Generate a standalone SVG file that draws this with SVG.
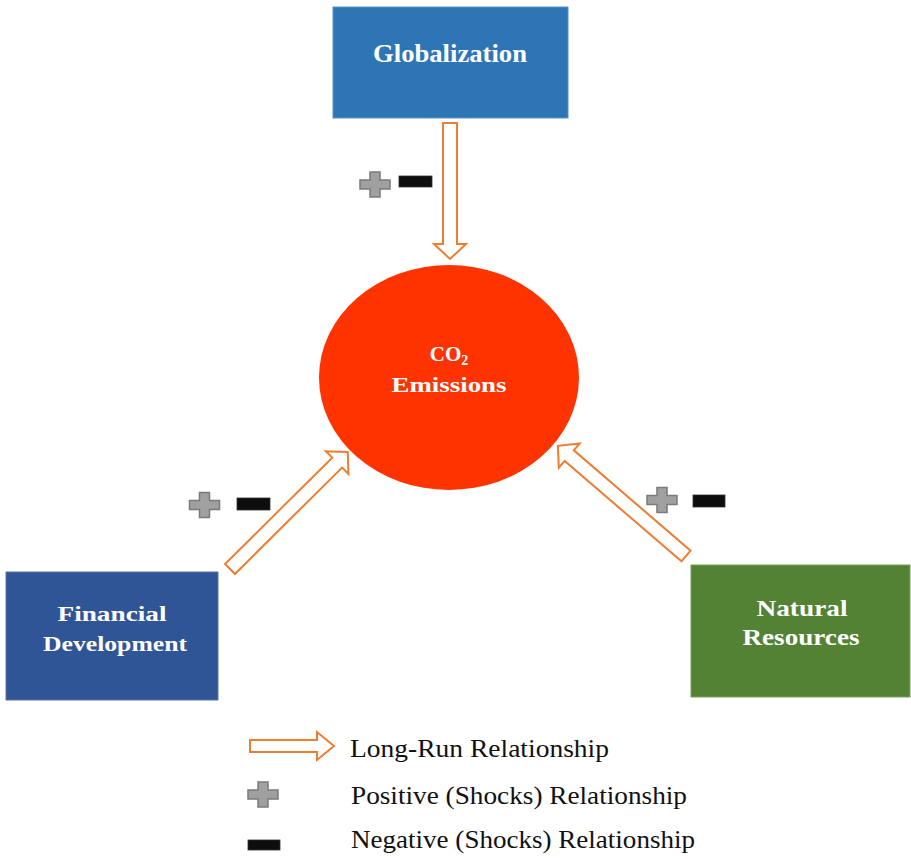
<svg xmlns="http://www.w3.org/2000/svg" xmlns:xlink="http://www.w3.org/1999/xlink" width="911" height="859" viewBox="0 0 911 859">
  <style>
    .box-text { font-family: "Liberation Serif", "Times New Roman", serif; font-weight: bold; fill: #ffffff; text-anchor: middle; }
    .legend-text { font-family: "Liberation Serif", "Times New Roman", serif; font-size: 26px; fill: #111111; }
    .flow { fill: #ffffff; stroke: #ED7D31; stroke-width: 2; stroke-linejoin: miter; }
    .minus { fill: #0d0d0d; stroke: #333333; stroke-width: 0.8; }
  </style>
  <defs>
    <polygon id="plus" points="-5,-12.5 5,-12.5 5,-4.5 15,-4.5 15,4.5 5,4.5 5,12.5 -5,12.5 -5,4.5 -15,4.5 -15,-4.5 -5,-4.5" fill="#a0a0a0" stroke="#7a7a7a" stroke-width="1.5"/>
  </defs>

  <rect width="911" height="859" fill="#ffffff"/>

  <!-- central node -->
  <g id="co2-emissions">
    <ellipse cx="449" cy="377.5" rx="130" ry="112.5" fill="#FF3300"/>
    <text class="box-text" x="449" y="361" font-size="21">CO<tspan font-size="14" dy="4">2</tspan></text>
    <text class="box-text" x="449" y="392" font-size="21" textLength="115" lengthAdjust="spacingAndGlyphs">Emissions</text>
  </g>

  <g id="globalization">
    <rect x="333" y="7" width="235" height="111" fill="#2E75B6" stroke="#5b93c8" stroke-width="1"/>
    <text class="box-text" x="450" y="62" font-size="26" textLength="154" lengthAdjust="spacingAndGlyphs">Globalization</text>
  </g>

  <g id="financial-development">
    <rect x="6" y="572" width="212" height="128" fill="#2F5597" stroke="#5a77ad" stroke-width="1"/>
    <text class="box-text" x="112" y="621" font-size="22" textLength="109" lengthAdjust="spacingAndGlyphs">Financial</text>
    <text class="box-text" x="115" y="651" font-size="22" textLength="144" lengthAdjust="spacingAndGlyphs">Development</text>
  </g>

  <g id="natural-resources">
    <rect x="691" y="565" width="219" height="132" fill="#548235" stroke="#78a05c" stroke-width="1"/>
    <text class="box-text" x="802" y="616" font-size="24" textLength="91" lengthAdjust="spacingAndGlyphs">Natural</text>
    <text class="box-text" x="801" y="645" font-size="24" textLength="117" lengthAdjust="spacingAndGlyphs">Resources</text>
  </g>

  <!-- long-run block arrows and shock signs -->
  <g id="connectors">
    <polygon class="flow" transform="translate(450,123) rotate(90)" points="0,-7 121,-7 121,-16 136,0 121,16 121,7 0,7"/>
    <polygon class="flow" transform="translate(230,569) rotate(-44.8)" points="0,-7 151,-7 151,-16 166,0 151,16 151,7 0,7"/>
    <polygon class="flow" transform="translate(686,556) rotate(-139.3)" points="0,-7 154,-7 154,-16 169,0 154,16 154,7 0,7"/>

    <use xlink:href="#plus" href="#plus" x="375" y="184.5"/>
    <rect class="minus" x="399" y="176" width="33" height="11"/>

    <use xlink:href="#plus" href="#plus" x="204.5" y="505"/>
    <rect class="minus" x="237" y="498" width="33" height="12"/>

    <use xlink:href="#plus" href="#plus" x="662" y="500"/>
    <rect class="minus" x="693" y="495" width="32" height="12"/>
  </g>

  <!-- key -->
  <g id="legend">
    <polygon class="flow" transform="translate(250,746)" points="0,-6 67,-6 67,-14 84,0 67,14 67,6 0,6"/>
    <text class="legend-text" x="350" y="757" textLength="259" lengthAdjust="spacingAndGlyphs">Long-Run Relationship</text>
    <use xlink:href="#plus" href="#plus" x="263" y="794.5"/>
    <text class="legend-text" x="351" y="804" textLength="336" lengthAdjust="spacingAndGlyphs">Positive (Shocks) Relationship</text>
    <rect class="minus" x="248" y="840" width="32" height="10"/>
    <text class="legend-text" x="351" y="848" textLength="344" lengthAdjust="spacingAndGlyphs">Negative (Shocks) Relationship</text>
  </g>
</svg>
